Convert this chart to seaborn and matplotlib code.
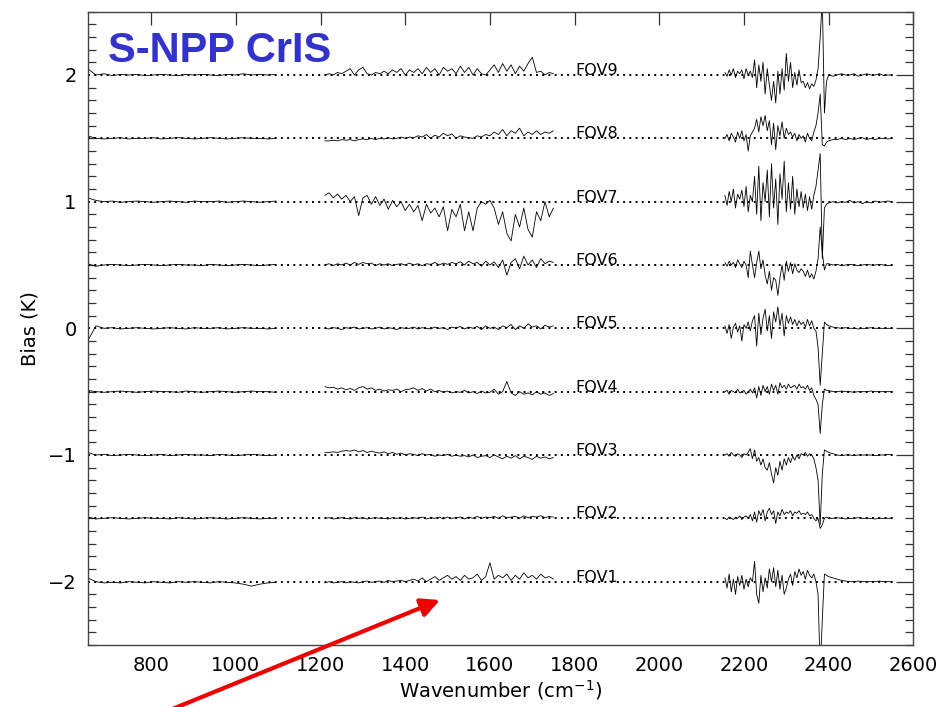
import numpy as np
import pandas as pd
import matplotlib
matplotlib.use("Agg")
import matplotlib.pyplot as plt
import seaborn as sns
from matplotlib.ticker import MultipleLocator

# ---------------- data (bias deviations in K) ----------------
FOVS = ["FOV1", "FOV2", "FOV3", "FOV4", "FOV5", "FOV6", "FOV7", "FOV8", "FOV9"]
OFFSETS = [-2.0, -1.5, -1.0, -0.5, 0.0, 0.5, 1.0, 1.5, 2.0]

LW_RANGE = (650, 1095)
MW_RANGE = (1210, 1750)
SW_CORE_RANGE = (2155, 2395)
SW_TAIL_RANGE = (2400, 2550)

LW_FOV1 = [0.03, 0.0, -0.01, -0.005, -0.01, 0.0, -0.005, -0.01, 0.0, -0.005, -0.01, 0.0, -0.005, 0.0, -0.005, -0.01, 0.0, -0.005, -0.01, -0.02, -0.035, -0.02, -0.01, -0.005]
LW_FOV2 = [0.01, -0.005, 0.0, 0.005, 0.0, -0.005, 0.0, 0.005, 0.0, 0.0, -0.005, 0.005, 0.0, -0.005, 0.0, 0.005, 0.0, -0.005, 0.0, 0.005, 0.0, -0.005, 0.0, 0.0]
LW_FOV3 = [0.02, 0.0, 0.005, -0.005, 0.0, 0.005, 0.0, -0.005, 0.0, 0.005, -0.005, 0.0, 0.005, 0.0, 0.0, -0.005, 0.005, 0.0, -0.005, 0.0, 0.005, 0.0, -0.005, 0.0]
LW_FOV4 = [0.01, 0.0, -0.005, 0.0, 0.005, 0.0, -0.005, 0.0, 0.005, 0.0, 0.0, -0.005, 0.005, 0.0, -0.005, 0.0, 0.005, 0.0, -0.005, 0.0, 0.005, 0.0, 0.0, -0.005]
LW_FOV5 = [-0.1, 0.02, 0.0, 0.005, -0.005, 0.0, 0.005, 0.0, -0.005, 0.0, 0.005, 0.0, -0.005, 0.005, 0.0, 0.0, 0.005, -0.005, 0.0, 0.005, 0.0, 0.0, -0.005, 0.0]
LW_FOV6 = [0.01, -0.01, 0.0, 0.005, 0.0, -0.005, 0.0, 0.005, 0.0, -0.005, 0.0, 0.005, 0.0, 0.0, -0.005, 0.005, 0.0, -0.005, 0.0, 0.005, 0.0, -0.005, 0.0, 0.005]
LW_FOV7 = [0.03, 0.01, 0.0, 0.005, -0.005, 0.0, 0.005, 0.0, -0.005, 0.0, 0.005, 0.0, -0.005, 0.005, 0.0, 0.0, 0.005, -0.005, 0.0, 0.005, 0.0, -0.005, 0.0, 0.005]
LW_FOV8 = [0.02, 0.0, -0.005, 0.0, 0.005, -0.005, 0.0, 0.0, 0.005, -0.005, 0.0, 0.005, 0.0, -0.005, 0.0, 0.005, 0.0, -0.005, 0.0, 0.005, 0.0, 0.0, -0.005, 0.0]
LW_FOV9 = [0.05, 0.0, 0.01, -0.005, 0.005, 0.0, 0.005, -0.005, 0.0, 0.005, 0.0, -0.005, 0.005, 0.0, 0.005, 0.0, -0.005, 0.005, 0.0, 0.01, 0.0, 0.005, 0.0, 0.005]

MW_FOV1 = [-0.01, 0.0, -0.01, -0.005, 0.0, -0.01, 0.0, -0.005, -0.01, 0.0, 0.005, -0.005, 0.0, 0.005, -0.005, 0.01, 0.0, 0.005, 0.01, 0.0, 0.01, 0.02, 0.005, 0.03, 0.0, 0.02, 0.04, 0.01, 0.03, 0.05, 0.02, 0.04, 0.01, 0.05, 0.02, 0.03, 0.06, 0.01, 0.04, 0.15, 0.02, 0.05, 0.03, 0.06, 0.01, 0.05, 0.02, 0.07, 0.03, 0.05, 0.02, 0.06, 0.03, 0.04, 0.02]
MW_FOV2 = [0.0, 0.005, -0.005, 0.0, 0.005, 0.0, -0.005, 0.005, 0.0, 0.005, -0.005, 0.0, 0.005, 0.0, 0.0, -0.005, 0.005, 0.0, 0.005, -0.005, 0.0, 0.005, 0.0, 0.01, -0.005, 0.005, 0.0, 0.01, -0.005, 0.01, 0.0, 0.005, 0.01, -0.005, 0.01, 0.0, 0.015, 0.0, 0.01, 0.005, 0.015, 0.0, 0.02, 0.005, 0.01, 0.015, 0.0, 0.02, 0.005, 0.015, 0.01, 0.02, 0.005, 0.015, 0.01]
MW_FOV3 = [0.02, 0.02, 0.025, 0.02, 0.03, 0.035, 0.03, 0.04, 0.025, 0.035, 0.02, 0.03, 0.02, 0.015, 0.025, 0.01, 0.02, 0.005, 0.015, 0.0, 0.01, 0.005, -0.005, 0.01, 0.0, 0.005, -0.01, 0.0, -0.005, 0.005, -0.01, 0.0, -0.01, -0.005, -0.015, 0.0, -0.02, -0.01, -0.005, -0.02, 0.0, -0.015, -0.03, -0.01, -0.025, -0.005, -0.03, -0.01, -0.02, -0.035, -0.01, -0.025, -0.015, -0.03, -0.02]
MW_FOV4 = [0.04, 0.03, 0.035, 0.02, 0.03, 0.015, 0.025, 0.01, 0.03, 0.04, 0.02, 0.03, 0.01, 0.02, 0.005, 0.015, 0.01, 0.02, 0.0, 0.015, 0.02, 0.03, 0.01, 0.025, 0.005, 0.02, 0.0, 0.01, -0.005, 0.005, -0.01, 0.0, -0.005, 0.01, -0.01, 0.0, -0.015, 0.005, -0.01, -0.005, 0.02, -0.02, 0.0, 0.08, -0.01, -0.03, 0.0, -0.02, -0.01, -0.025, 0.0, -0.02, -0.01, -0.03, -0.015]
MW_FOV5 = [0.0, -0.005, 0.005, 0.0, -0.01, 0.005, 0.0, 0.01, -0.005, 0.0, 0.005, -0.005, 0.0, 0.01, -0.005, 0.005, 0.0, -0.01, 0.005, 0.0, 0.0, 0.01, -0.005, 0.005, 0.0, -0.005, 0.01, 0.0, 0.005, -0.01, 0.01, 0.0, 0.015, -0.005, 0.01, 0.0, 0.015, -0.01, 0.02, 0.0, 0.01, -0.01, 0.02, 0.005, 0.03, -0.01, 0.02, 0.0, 0.035, 0.01, 0.02, -0.005, 0.025, 0.01, 0.02]
MW_FOV6 = [0.0, 0.01, -0.005, 0.01, 0.0, 0.015, 0.0, 0.02, 0.005, 0.02, 0.01, 0.015, -0.005, 0.01, 0.0, 0.01, -0.005, 0.005, 0.01, 0.0, 0.015, 0.0, 0.01, -0.005, 0.01, 0.005, 0.02, 0.0, 0.015, 0.005, 0.02, 0.01, 0.025, 0.0, 0.03, 0.01, 0.02, -0.01, 0.03, 0.0, 0.025, -0.02, 0.04, -0.08, 0.02, 0.05, -0.03, 0.07, 0.0, 0.04, -0.02, 0.05, 0.01, 0.03, 0.02]
MW_FOV7 = [0.05, 0.07, 0.03, 0.06, 0.02, 0.05, 0.0, 0.04, -0.11, 0.03, 0.05, -0.02, 0.04, -0.03, 0.02, -0.06, 0.01, -0.04, 0.0, -0.07, -0.02, -0.08, -0.03, -0.15, -0.02, -0.09, -0.05, -0.12, -0.04, -0.23, -0.06, -0.12, -0.02, -0.23, -0.08, -0.23, -0.05, 0.0, -0.02, 0.01, -0.05, -0.18, -0.08, -0.25, -0.31, -0.1, -0.2, -0.05, -0.22, -0.28, -0.08, -0.15, 0.0, -0.12, -0.05]
MW_FOV8 = [-0.02, -0.02, -0.015, -0.02, -0.01, -0.015, -0.01, -0.02, -0.01, -0.005, -0.01, 0.0, -0.01, 0.0, -0.005, 0.005, -0.005, 0.0, 0.01, 0.0, 0.01, 0.005, 0.02, 0.01, 0.03, 0.0, 0.025, 0.01, 0.04, 0.02, 0.035, 0.0, 0.02, 0.01, 0.005, 0.0, 0.02, 0.01, 0.03, 0.02, 0.05, 0.03, 0.07, 0.02, 0.06, 0.04, 0.08, 0.02, 0.05, 0.03, 0.06, 0.03, 0.05, 0.04, 0.06]
MW_FOV9 = [0.0, 0.01, 0.0, 0.02, 0.01, 0.03, 0.05, 0.0, 0.04, 0.06, 0.01, 0.0, 0.02, 0.01, 0.03, 0.01, 0.04, 0.02, 0.05, 0.0, 0.04, 0.02, 0.05, 0.01, 0.06, 0.02, 0.05, 0.0, 0.06, 0.03, 0.05, 0.01, 0.07, 0.02, 0.06, 0.0, 0.05, 0.01, 0.0, 0.04, 0.08, 0.02, 0.09, 0.03, 0.08, 0.01, 0.07, 0.03, 0.09, 0.14, 0.02, 0.03, 0.0, 0.02, 0.01]

SW_FOV1 = [0.03, -0.05, 0.06, -0.08, 0.02, -0.1, 0.04, -0.03, 0.05, -0.06, 0.02, -0.04, 0.03, 0.0,
           0.16, -0.1, -0.17, 0.05, -0.08, 0.03, -0.05, 0.1, 0.0, 0.11, -0.04, 0.09, -0.06, 0.05, -0.1, -0.05, 0.02, 0.06, -0.03, 0.08, 0.03, 0.1, 0.05,
           0.08, 0.02, 0.09, 0.05, 0.03, 0.06, 0.0, -0.1,
           -0.7, -0.3, 0.06, 0.05]
SW_FOV2 = [0.0, -0.01, 0.01, 0.0, -0.01, 0.01, 0.0, 0.02, -0.01, 0.01, 0.02, 0.0, 0.03, -0.02,
           0.05, -0.03, 0.06, 0.02, 0.07, -0.02, 0.05, 0.08, 0.03, 0.06, -0.04, 0.05, 0.02, 0.07, 0.03, 0.05, 0.04, 0.06, 0.02, 0.05, 0.04, 0.06, 0.03,
           0.04, 0.03, 0.05, 0.02, 0.03, 0.0, -0.02, 0.0,
           -0.08, -0.05, 0.0, 0.01]
SW_FOV3 = [0.0, 0.01, -0.01, 0.02, 0.0, -0.01, 0.01, 0.0, -0.02, 0.01, 0.0, 0.02, 0.05, -0.03,
           0.04, -0.05, -0.02, -0.08, -0.03, -0.1, -0.12, -0.06, -0.15, -0.22, -0.1, -0.16, -0.05, -0.12, -0.03, -0.08, -0.02, -0.06, -0.01, -0.04, 0.0, -0.03, 0.01,
           0.0, 0.02, -0.01, 0.01, 0.0, -0.03, -0.1, -0.2,
           -0.55, -0.15, 0.04, 0.03]
SW_FOV4 = [0.0, 0.01, -0.02, 0.01, 0.0, -0.01, 0.02, -0.01, 0.0, 0.01, -0.02, 0.0, 0.02, -0.01,
           0.03, -0.05, 0.04, -0.03, 0.05, 0.0, 0.04, -0.02, 0.06, 0.01, 0.05, -0.02, 0.07, 0.03, 0.05, 0.02, 0.06, 0.03, 0.04, 0.05, 0.02, 0.06, 0.03,
           0.04, 0.02, 0.05, 0.01, 0.03, -0.03, -0.06, -0.1,
           -0.33, -0.1, 0.02, 0.01]
SW_FOV5 = [0.02, -0.04, 0.03, -0.08, 0.01, 0.04, -0.03, 0.02, -0.1, 0.03, 0.0, 0.05, -0.02, 0.06,
           0.1, -0.14, 0.12, -0.05, 0.08, 0.15, -0.02, 0.1, -0.08, 0.13, 0.05, 0.17, 0.02, 0.12, -0.06, 0.1, 0.04, 0.09, 0.03, 0.07, 0.02, 0.06, 0.03,
           0.05, 0.01, 0.07, 0.02, 0.06, 0.0, -0.02, -0.15,
           -0.45, -0.2, 0.05, 0.03]
SW_FOV6 = [0.02, -0.01, 0.03, 0.0, 0.02, -0.02, 0.04, 0.01, -0.02, 0.03, 0.0, -0.1, 0.11, 0.0,
           -0.1, 0.02, 0.11, -0.03, 0.04, -0.08, -0.15, -0.05, -0.2, -0.1, -0.12, -0.24, -0.1, 0.0, -0.12, 0.03, -0.05, 0.02, -0.07, 0.01, -0.04, -0.06, -0.03,
           -0.05, -0.09, -0.04, -0.1, -0.07, -0.11, -0.05, 0.05,
           0.3, 0.1, -0.04, 0.01]
SW_FOV7 = [0.05, -0.03, 0.08, 0.0, 0.1, -0.05, 0.06, 0.02, 0.09, -0.04, 0.12, -0.08, 0.05, 0.0,
           0.2, -0.1, 0.28, -0.15, 0.15, 0.0, 0.25, -0.12, 0.3, -0.05, 0.18, -0.18, 0.22, 0.02, 0.32, -0.08, 0.15, -0.06, 0.2, -0.1, 0.1, -0.04, 0.08,
           -0.05, 0.06, -0.07, 0.04, -0.06, 0.05, 0.12, 0.25,
           0.38, -0.45, -0.05, -0.02]
SW_FOV8 = [0.0, 0.03, -0.02, 0.04, 0.01, -0.03, 0.05, 0.0, 0.06, -0.02, 0.03, -0.1, 0.02, 0.05,
           0.08, 0.15, 0.05, 0.17, 0.1, 0.18, 0.06, 0.14, -0.05, 0.12, -0.09, 0.1, 0.02, 0.13, 0.0, 0.08, 0.03, 0.05, 0.01, 0.04, -0.02, 0.03, 0.0,
           0.02, -0.03, 0.04, 0.0, -0.02, 0.05, 0.1, 0.2,
           0.35, -0.05, -0.06, -0.03]
SW_FOV9 = [0.02, -0.01, 0.04, 0.0, 0.05, -0.02, 0.03, 0.01, 0.04, -0.03, 0.05, 0.0, 0.03, -0.02,
           0.12, -0.1, 0.08, -0.05, 0.1, -0.15, 0.05, -0.08, -0.2, -0.05, -0.22, 0.03, -0.15, 0.05, -0.12, 0.17, -0.05, 0.1, -0.1, 0.02, -0.08, 0.04, -0.06,
           -0.05, -0.1, -0.06, -0.11, -0.07, -0.09, -0.04, 0.05,
           0.3, 0.6, -0.3, -0.05]

TAIL_FOV1 = [0.04, 0.03, 0.02, 0.01, 0.005, 0.0, 0.0, 0.005, 0.0, 0.0, 0.0, 0.0, 0.005, 0.0, 0.0, 0.0]
TAIL_FOV2 = [0.0, 0.0, 0.005, 0.0, -0.005, 0.0, 0.0, 0.005, 0.0, 0.0, 0.0, -0.005, 0.0, 0.0, 0.0, 0.0]
TAIL_FOV3 = [0.02, 0.01, 0.0, -0.005, 0.0, 0.0, -0.005, 0.0, 0.0, 0.0, 0.0, -0.005, 0.0, 0.0, 0.005, 0.0]
TAIL_FOV4 = [0.01, 0.0, 0.0, 0.005, 0.0, 0.0, -0.005, 0.0, 0.0, 0.0, 0.005, 0.0, 0.0, 0.0, 0.0, 0.0]
TAIL_FOV5 = [0.02, 0.01, 0.005, 0.0, 0.005, 0.0, 0.0, -0.005, 0.0, 0.0, 0.005, 0.0, 0.0, 0.0, 0.0, 0.0]
TAIL_FOV6 = [0.01, 0.0, 0.005, -0.005, 0.0, 0.005, 0.0, -0.005, 0.0, 0.005, 0.0, 0.0, 0.005, 0.0, -0.005, 0.0]
TAIL_FOV7 = [-0.01, 0.0, -0.01, 0.0, -0.005, 0.01, -0.01, 0.0, -0.015, 0.0, -0.01, 0.005, -0.005, 0.0, 0.005, 0.0]
TAIL_FOV8 = [-0.02, -0.01, -0.01, 0.0, -0.01, 0.0, -0.01, 0.0, 0.005, -0.01, 0.0, -0.01, 0.0, 0.0, -0.005, 0.0]
TAIL_FOV9 = [0.0, -0.01, 0.0, 0.01, 0.0, 0.0, 0.01, -0.01, 0.0, 0.01, 0.0, 0.0, 0.01, -0.005, 0.0, 0.0]

LW_ALL = [LW_FOV1, LW_FOV2, LW_FOV3, LW_FOV4, LW_FOV5, LW_FOV6, LW_FOV7, LW_FOV8, LW_FOV9]
MW_ALL = [MW_FOV1, MW_FOV2, MW_FOV3, MW_FOV4, MW_FOV5, MW_FOV6, MW_FOV7, MW_FOV8, MW_FOV9]
SW_ALL = [SW_FOV1, SW_FOV2, SW_FOV3, SW_FOV4, SW_FOV5, SW_FOV6, SW_FOV7, SW_FOV8, SW_FOV9]
TAIL_ALL = [TAIL_FOV1, TAIL_FOV2, TAIL_FOV3, TAIL_FOV4, TAIL_FOV5, TAIL_FOV6, TAIL_FOV7, TAIL_FOV8, TAIL_FOV9]

X_TICKS = [800, 1000, 1200, 1400, 1600, 1800, 2000, 2200, 2400, 2600]
Y_TICKS = [-2, -1, 0, 1, 2]
Y_TICK_LABELS = ["\u22122", "\u22121", "0", "1", "2"]

# ---------------- build long table ----------------
rows = []
for fov, off, lw, mw, sw, tail in zip(FOVS, OFFSETS, LW_ALL, MW_ALL, SW_ALL, TAIL_ALL):
    segs = {
        "LW": (np.linspace(*LW_RANGE, len(lw)), np.array(lw)),
        "MW": (np.linspace(*MW_RANGE, len(mw)), np.array(mw)),
        "SW": (np.concatenate([np.linspace(*SW_CORE_RANGE, len(sw)),
                               np.linspace(*SW_TAIL_RANGE, len(tail))]),
               np.concatenate([np.array(sw), np.array(tail)])),
    }
    for band, (xs, ys) in segs.items():
        for x, y in zip(xs, ys):
            rows.append({"wn": x, "bias": off + y, "seg": f"{fov}_{band}"})
df = pd.DataFrame(rows)

# ---------------- plot ----------------
sns.set_theme(style="white")
plt.rcParams["font.family"] = ["DejaVu Sans"]
plt.rcParams["text.color"] = "black"
plt.rcParams["axes.labelcolor"] = "black"
plt.rcParams["xtick.color"] = "black"
plt.rcParams["ytick.color"] = "black"

fig = plt.figure(figsize=(9.41, 7.07), dpi=100)
ax = fig.add_axes([0.0932, 0.0877, 0.8774, 0.8958])

for fov, off in zip(FOVS, OFFSETS):
    ax.plot([650, 2552], [off, off], color="black", lw=1.4,
            linestyle=(0, (1, 2.2)), zorder=1)
    ax.text(1801, off + 0.035, fov, fontsize=11.5, color="black",
            ha="left", va="center", zorder=3)

sns.lineplot(data=df, x="wn", y="bias", units="seg", estimator=None,
             sort=False, color="black", lw=0.6, ax=ax, zorder=2)

ax.set_xlim(650, 2600)
ax.set_ylim(-2.5, 2.5)
ax.set_xticks(X_TICKS)
ax.set_yticks(Y_TICKS)
ax.set_yticklabels(Y_TICK_LABELS)
ax.yaxis.set_minor_locator(MultipleLocator(0.1))
ax.tick_params(axis="both", which="major", direction="in", top=True, right=True,
               labelsize=14, pad=8, width=0.9, color="#333333", labelcolor="black")
ax.tick_params(axis="x", which="major", length=9)
ax.tick_params(axis="y", which="major", length=12)
ax.tick_params(axis="y", which="minor", direction="in", left=True, right=True,
               length=6, width=0.9, color="#333333")
for s in ax.spines.values():
    s.set_color("#444444")
    s.set_linewidth(1.0)

ax.set_xlabel("Wavenumber (cm$^{-1}$)", fontsize=14, labelpad=2, color="black")
ax.set_ylabel("Bias (K)", fontsize=14, labelpad=6, color="black")

ax.text(0.0246, 0.9206, "S-NPP CrIS", transform=ax.transAxes,
        fontsize=30, fontweight="bold", color="#3333CC",
        family=["Liberation Sans", "DejaVu Sans"], ha="left", va="baseline", zorder=4)

# red arrow annotation (figure pixel coords, origin bottom-left)
ax.annotate("", xy=(440, 107), xycoords="figure pixels",
            xytext=(165, -5), textcoords="figure pixels",
            arrowprops=dict(arrowstyle="-|>", color="#EE0000", lw=3,
                            mutation_scale=28, shrinkA=0, shrinkB=0),
            annotation_clip=False, zorder=10)

fig.savefig("out.png", dpi=100)
